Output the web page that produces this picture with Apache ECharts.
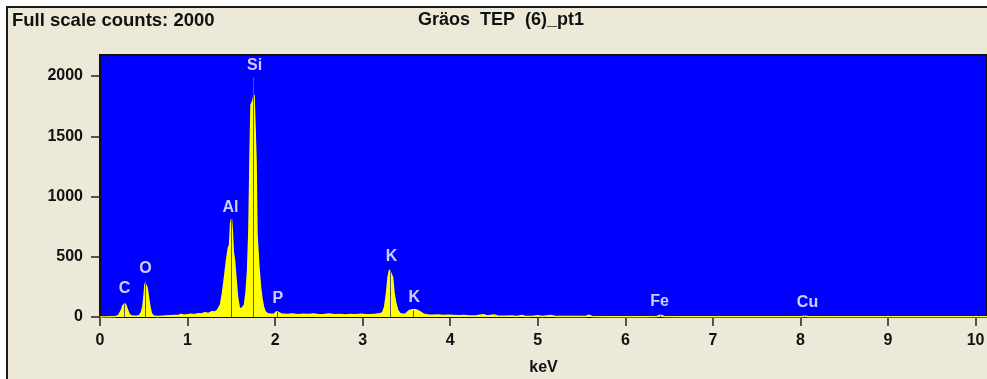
<!DOCTYPE html>
<html>
<head>
<meta charset="utf-8">
<script src="https://cdn.jsdelivr.net/npm/echarts@6/dist/echarts.min.js"></script>
<style>
  html, body { margin: 0; padding: 0; background: #fff; }
  #chart { width: 987px; height: 379px; }
</style>
</head>
<body>
<div id="chart"></div>
<script>
// spectrum (keV, counts)
const spectrumKeV = [
  0.00, 0.10, 0.18, 0.21,
  0.223, 0.246, 0.262, 0.275, 0.285, 0.300, 0.315, 0.330, 0.348,
  0.38, 0.42, 0.45,
  0.474, 0.491, 0.505, 0.515, 0.525, 0.535, 0.545, 0.556, 0.571, 0.588, 0.611,
  0.65, 0.70, 0.75, 0.80, 0.85, 0.90, 0.93, 0.96, 1.00, 1.04, 1.08, 1.12, 1.16, 1.20, 1.24, 1.28, 1.31, 1.34,
  1.360, 1.376, 1.399, 1.422, 1.445, 1.465, 1.480, 1.492, 1.502, 1.512, 1.522, 1.536, 1.553, 1.570, 1.590, 1.610, 1.630,
  1.650, 1.668, 1.685, 1.700, 1.713, 1.725, 1.736, 1.747, 1.759, 1.770, 1.782, 1.793, 1.805, 1.816, 1.833, 1.850, 1.868, 1.890, 1.913,
  1.95, 1.99, 2.02, 2.04, 2.08, 2.14, 2.20, 2.26, 2.32, 2.38, 2.44, 2.50, 2.56, 2.62, 2.68, 2.74, 2.80, 2.86, 2.92, 2.98, 3.04, 3.10, 3.15, 3.20,
  3.227, 3.250, 3.273, 3.290, 3.307, 3.324, 3.341, 3.358, 3.376, 3.398, 3.421, 3.456,
  3.490, 3.513, 3.536, 3.570, 3.604, 3.638, 3.673, 3.707,
  3.75, 3.80, 3.86, 3.92, 3.98, 4.04, 4.10, 4.16, 4.22, 4.30, 4.38, 4.42, 4.50, 4.55, 4.62, 4.70, 4.76, 4.82, 4.86, 4.95,
  5.00, 5.05, 5.15, 5.20, 5.30, 5.40, 5.55, 5.58, 5.62, 5.80, 6.00, 6.20, 6.36, 6.40, 6.44, 6.70, 7.00, 7.50,
  8.00, 8.05, 8.10, 8.60, 9.20, 9.80, 10.13
];
const spectrumCounts = [
  0, 2, 4, 10,
  25, 60, 95, 108, 110, 90, 55, 30, 12,
  6, 6, 12,
  40, 90, 190, 280, 295, 250, 210, 150, 80, 28, 8,
  5, 6, 8, 10, 12, 14, 20, 14, 18, 22, 18, 28, 25, 35, 30, 45, 40, 55,
  70, 100, 200, 330, 470, 570, 600, 780, 810, 700, 540, 470, 320, 170, 80, 62, 58,
  100, 200, 380, 700, 1300, 1760, 1760, 1800, 1842, 1842, 1300, 680, 675, 400, 250, 150, 80, 40, 28,
  22, 25, 45, 30, 22, 20, 24, 18, 22, 20, 26, 18, 20, 24, 18, 20, 16, 20, 18, 22, 18, 20, 22, 28,
  35, 80, 200, 330, 390, 397, 330, 200, 120, 60, 32, 22,
  25, 40, 55, 60, 60, 50, 35, 20,
  16, 14, 16, 12, 14, 12, 10, 12, 9, 10, 18, 8, 16, 7, 6, 8, 5, 12, 5, 6,
  10, 5, 12, 4, 5, 4, 5, 14, 4, 3, 3, 3, 5, 14, 4, 3, 2, 2,
  3, 6, 2, 2, 2, 2, 2
];

// element marker lines
const markerKeV = [0.277, 0.522, 1.50, 1.747, 2.02, 3.32, 3.58, 6.40, 8.04];
const markerTop = [105, 300, 810, 1990, 45, 395, 55, 12, 5];

// element labels
const elementNames = ['C', 'O', 'Al', 'Si', 'P', 'K', 'K', 'Fe', 'Cu'];
const elementKeV = [0.28, 0.52, 1.49, 1.765, 2.03, 3.33, 3.59, 6.39, 8.08];
const elementCounts = [233, 400, 908, 2083, 150, 500, 158, 125, 117];

const xTicks = [0, 1, 2, 3, 4, 5, 6, 7, 8, 9, 10];
const yTicks = [0, 500, 1000, 1500, 2000];

const chart = echarts.init(document.getElementById('chart'));

const font = '"Liberation Sans", Arial, sans-serif';

const option = {
  animation: false,
  backgroundColor: '#fff',
  graphic: [
    {
      type: 'rect',
      z: -10,
      shape: { x: 7, y: 7, width: 990, height: 380 },
      style: { fill: '#ECE9D8', stroke: '#1a1a1a', lineWidth: 2 }
    },
    {
      type: 'text',
      left: 12,
      top: 11,
      style: { text: 'Full scale counts: 2000', font: 'bold 18.5px ' + font, fill: '#111' }
    },
    {
      type: 'text',
      left: 418,
      top: 11,
      style: { text: 'Gräos  TEP  (6)_pt1', font: 'bold 18px ' + font, fill: '#111' }
    }
  ],
  grid: {
    left: 100,
    right: 0,
    top: 55,
    bottom: 62,
    outerBoundsMode: 'none',
    containLabel: false,
    show: true,
    backgroundColor: '#0000FF',
    borderColor: '#111',
    borderWidth: 2
  },
  xAxis: {
    type: 'value',
    min: 0,
    max: 10.13,
    interval: 1,
    name: 'keV',
    nameLocation: 'middle',
    nameGap: 43,
    nameTextStyle: { color: '#111', fontFamily: font, fontWeight: 'bold', fontSize: 16 },
    splitLine: { show: false },
    axisLine: { show: true, lineStyle: { color: '#111', width: 2 } },
    axisTick: { show: true, length: 9, customValues: xTicks, lineStyle: { color: '#222', width: 1.5 } },
    axisLabel: {
      customValues: xTicks,
      color: '#111',
      fontFamily: font,
      fontWeight: 'bold',
      fontSize: 16,
      margin: 16
    }
  },
  yAxis: {
    type: 'value',
    min: 0,
    max: 2175,
    interval: 500,
    splitLine: { show: false },
    axisLine: { show: true, lineStyle: { color: '#111', width: 2 } },
    axisTick: { show: true, length: 9, customValues: yTicks, lineStyle: { color: '#222', width: 1.5 } },
    axisLabel: {
      customValues: yTicks,
      formatter: v => String(v),
      color: '#111',
      fontFamily: font,
      fontWeight: 'bold',
      fontSize: 16,
      margin: 17
    }
  },
  series: [
    {
      type: 'line',
      data: spectrumKeV.map((k, i) => [k, spectrumCounts[i]]),
      showSymbol: false,
      symbol: 'none',
      lineStyle: { color: '#FFFF00', width: 1.5 },
      areaStyle: { color: '#FFFF00', opacity: 1 },
      silent: true,
      z: 2,
      markLine: {
        silent: true,
        symbol: ['none', 'none'],
        label: { show: false },
        lineStyle: { color: '#5a5a66', width: 1, type: 'solid' },
        data: markerKeV.map((k, i) => [{ coord: [k, 0] }, { coord: [k, markerTop[i]] }])
      }
    },
    {
      type: 'scatter',
      data: elementKeV.map((k, i) => [k, elementCounts[i]]),
      symbolSize: 0,
      silent: true,
      z: 5,
      label: {
        show: true,
        position: 'inside',
        formatter: p => elementNames[p.dataIndex],
        color: '#fff',
        fontFamily: font,
        fontWeight: 'bold',
        fontSize: 16
      }
    }
  ]
};

chart.setOption(option);
</script>
</body>
</html>
